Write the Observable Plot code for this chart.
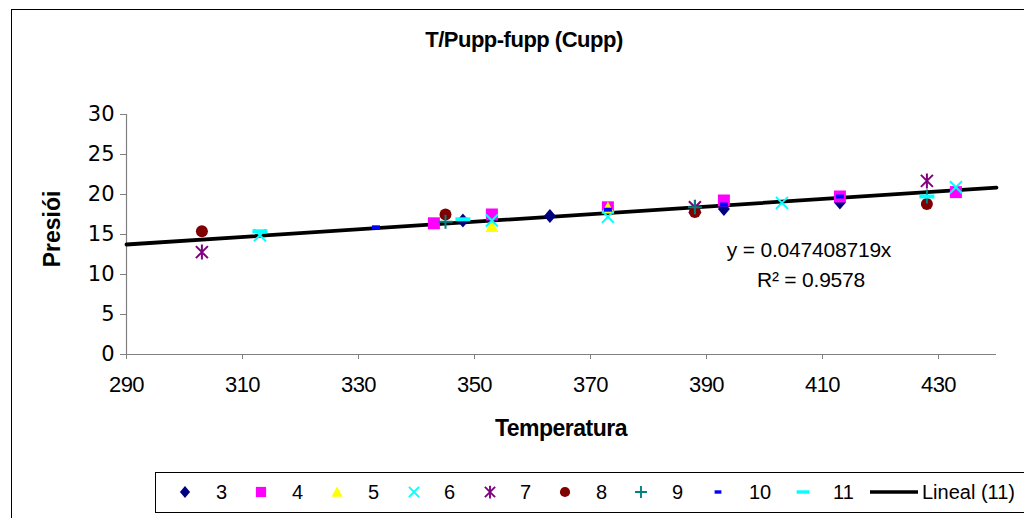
<!DOCTYPE html>
<html>
<head>
<meta charset="utf-8">
<script src="https://cdn.jsdelivr.net/npm/d3@7"></script>
<script src="https://cdn.jsdelivr.net/npm/@observablehq/plot@0.6"></script>
<style>
  body { margin: 0; background: #fff; }
  #wrap { position: relative; width: 1024px; height: 518px; overflow: hidden; background: #fff; }
  #wrap svg { position: absolute; left: 0; top: 0; }
</style>
</head>
<body>
<div id="wrap"></div>
<script>
// ---------------- DATA ----------------
const title = "T/Pupp-fupp (Cupp)";
const xLabel = "Temperatura";
const yLabel = "Presiói";
const xTicks = [290, 310, 330, 350, 370, 390, 410, 430];
const yTicks = [0, 5, 10, 15, 20, 25, 30];
const xDomain = [290, 440];
const yDomain = [0, 30];

const seriesNames = ["3", "4", "5", "6", "7", "8", "9", "10", "11"];
const s3  = [[348, 16.75], [363, 17.3], [393, 18.2], [413, 19.0]];
const s4  = [[343, 16.4], [353, 17.5], [373, 18.4], [393, 19.25], [413, 19.75], [433, 20.3]];
const s5  = [[353, 16.0], [373, 18.3]];
const s6  = [[313, 14.9], [353, 16.75], [373, 17.2], [403, 18.95], [433, 20.9]];
const s7  = [[303, 12.8], [388, 18.4], [428, 21.7]];
const s8  = [[303, 15.4], [345, 17.5], [388, 17.8], [428, 18.8]];
const s9  = [[345, 16.6], [388, 18.4], [428, 19.75]];
const s10 = [[333, 15.9], [373, 18.1], [393, 18.75], [413, 19.75]];
const s11 = [[313, 15.4], [348, 16.9], [428, 19.75]];
const seriesData = [s3, s4, s5, s6, s7, s8, s9, s10, s11];

const trendName = "Lineal (11)";
const trendSlope = 0.047408719;
const trendX = [290, 440];
const eqText = "y = 0.047408719x";
const r2Text = "R² = 0.9578";

// ---------------- STYLE ----------------
const colors = ["#000080", "#FF00FF", "#FFFF00", "#00FFFF", "#800080", "#800000", "#008080", "#0000FF", "#00FFFF"];
const filled = [true, true, true, false, false, true, false, true, true];

function mk(fn) { return { draw(c) { fn(c); } }; }
const symbols = [
  mk(c => { c.moveTo(0, -7); c.lineTo(6, 0); c.lineTo(0, 7); c.lineTo(-6, 0); c.closePath(); }),          // diamond
  mk(c => { c.rect(-6, -6, 12, 12); }),                                                                    // square
  mk(c => { c.moveTo(0, -6.5); c.lineTo(6.5, 5.5); c.lineTo(-6.5, 5.5); c.closePath(); }),                // triangle
  mk(c => { c.moveTo(-6, -6); c.lineTo(6, 6); c.moveTo(6, -6); c.lineTo(-6, 6); }),                         // x
  mk(c => { c.moveTo(-6, -6); c.lineTo(6, 6); c.moveTo(6, -6); c.lineTo(-6, 6); c.moveTo(0, -7.5); c.lineTo(0, 7.5); }), // asterisk
  mk(c => { c.moveTo(6, 0); c.arc(0, 0, 6, 0, 2 * Math.PI); }),                                            // circle
  mk(c => { c.moveTo(-7, 0); c.lineTo(7, 0); c.moveTo(0, -7); c.lineTo(0, 7); }),                         // plus
  mk(c => { c.rect(-4, -2, 8, 4); }),                                                                      // short dash
  mk(c => { c.rect(-7.5, -2, 15, 4); })                                                                    // long dash
];

const dotMarks = seriesData.map((data, i) => Plot.dot(data, {
  x: d => d[0], y: d => d[1], r: 6,
  symbol: symbols[i],
  fill: filled[i] ? colors[i] : "none",
  stroke: filled[i] ? "none" : colors[i],
  strokeWidth: 2
}));

const chart = Plot.plot({
  width: 1024, height: 518,
  marginLeft: 126, marginRight: 28, marginTop: 114, marginBottom: 164,
  x: { domain: xDomain },
  y: { domain: yDomain },
  style: { fontFamily: "'Liberation Sans', Arial, sans-serif", background: "transparent", color: "#000", overflow: "visible" },
  marks: [
    Plot.ruleY([0], { stroke: "#808080", strokeWidth: 1.2 }),
    Plot.ruleX([290], { stroke: "#808080", strokeWidth: 1.2 }),
    Plot.axisX({ ticks: xTicks, tickSize: 5, tickPadding: 17, stroke: "#808080", fontSize: 22, tickFormat: d => String(d), label: null }),
    Plot.axisY({ ticks: yTicks, tickSize: 6, tickPadding: 6, stroke: "#808080", fontSize: 21, tickFormat: d => String(d), label: null }),
    Plot.line(trendX, { x: d => d, y: d => trendSlope * d, stroke: "#000", strokeWidth: 3.8 }),
    ...dotMarks
  ]
});
const wrap = document.getElementById("wrap");
wrap.appendChild(chart);
d3.select(chart).selectAll('g[aria-label="y-axis tick label"] text').attr("font-family", "'DejaVu Sans', sans-serif");
d3.select(chart).selectAll('g[aria-label="x-axis tick label"] text').attr("letter-spacing", -0.5);

// ---------------- OVERLAY: frame, title, labels, legend ----------------
const ov = d3.select(wrap).append("svg").attr("width", 1024).attr("height", 518)
  .style("font-family", "'Liberation Sans', Arial, sans-serif").style("pointer-events", "none");
ov.append("rect").attr("x", 11.5).attr("y", 9.5).attr("width", 1030).attr("height", 530)
  .attr("fill", "none").attr("stroke", "#000").attr("stroke-width", 1);
ov.append("text").attr("x", 524).attr("y", 47).attr("text-anchor", "middle")
  .attr("font-size", 22).attr("font-weight", "bold").attr("letter-spacing", -0.5).text(title);
ov.append("text").attr("x", 561).attr("y", 436).attr("text-anchor", "middle")
  .attr("font-size", 23).attr("font-weight", "bold").attr("letter-spacing", -0.5).text(xLabel);
ov.append("text").attr("transform", "translate(60,229) rotate(-90)").attr("text-anchor", "middle")
  .attr("font-size", 23).attr("font-weight", "bold").text(yLabel);
ov.append("text").attr("x", 809).attr("y", 257).attr("text-anchor", "middle")
  .attr("font-size", 21).attr("letter-spacing", -0.2).text(eqText);
ov.append("text").attr("x", 811).attr("y", 287).attr("text-anchor", "middle")
  .attr("font-size", 21).attr("letter-spacing", -0.2).text(r2Text);

// legend
ov.append("rect").attr("x", 155.5).attr("y", 472.5).attr("width", 880).attr("height", 40)
  .attr("fill", "#fff").attr("stroke", "#000").attr("stroke-width", 1);
const legMarkX = [185, 261, 337, 414, 490, 565, 641, 718, 803];
const legLabX = [216, 292, 368, 444, 520, 596, 672, 749, 833];
const ly = 492;
seriesNames.forEach((name, i) => {
  const p = d3.path();
  symbols[i].draw(p);
  ov.append("path").attr("d", p.toString())
    .attr("transform", `translate(${legMarkX[i]},${ly}) scale(0.85)`)
    .attr("fill", filled[i] ? colors[i] : "none")
    .attr("stroke", filled[i] ? "none" : colors[i])
    .attr("stroke-width", 2.2);
  ov.append("text").attr("x", legLabX[i]).attr("y", ly + 7).attr("font-size", 20).text(name);
});
ov.append("line").attr("x1", 870).attr("x2", 918).attr("y1", ly).attr("y2", ly)
  .attr("stroke", "#000").attr("stroke-width", 3.5);
ov.append("text").attr("x", 922).attr("y", ly + 7).attr("font-size", 20).text(trendName);
</script>
</body>
</html>
